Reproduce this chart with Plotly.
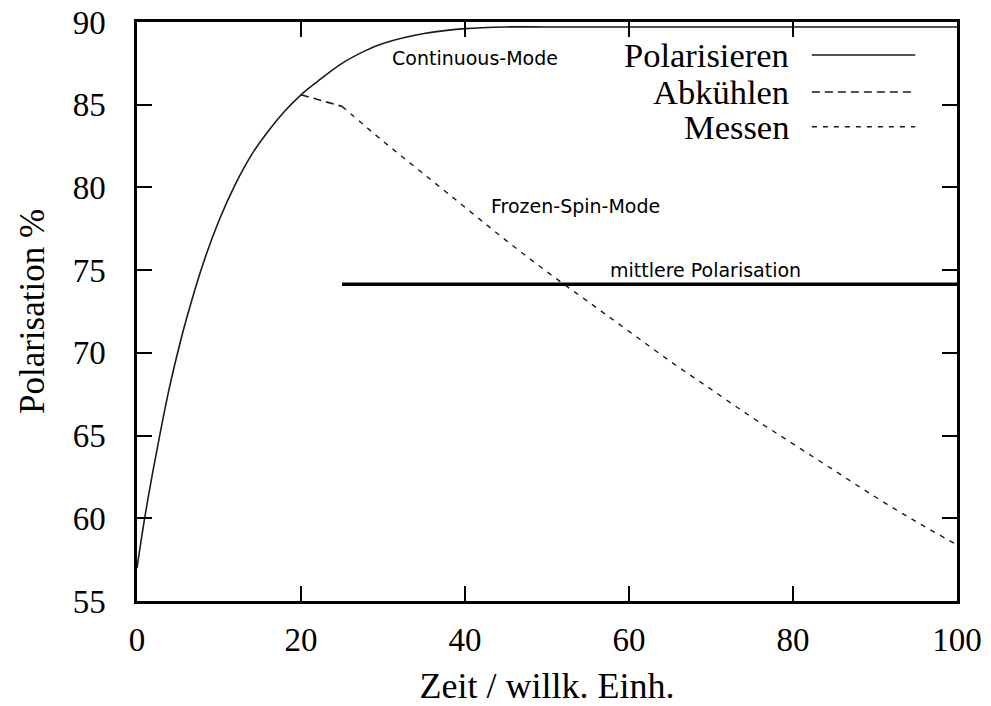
import plotly.graph_objects as go

# Data
t_pol = [0, 1, 2, 3, 4, 5, 6, 8, 10, 12, 14, 16, 18, 20, 22, 25, 28, 30, 35, 40, 45, 50, 60, 70, 80, 90, 100]
p_pol = [57.0, 60.2, 63.0, 65.6, 68.0, 70.1, 72.0, 75.3, 78.0, 80.2, 82.0, 83.4, 84.6, 85.6, 86.4, 87.5, 88.3, 88.7, 89.3, 89.6, 89.7, 89.7, 89.7, 89.7, 89.7, 89.7, 89.7]

t_cool = [20, 25]
p_cool = [85.6, 84.9]

t_meas = [25, 30, 35, 40, 45, 50, 55, 60, 65, 70, 75, 80, 85, 90, 95, 100]
p_meas = [84.9, 82.8, 80.8, 78.8, 76.8, 74.9, 73.1, 71.3, 69.5, 67.8, 66.1, 64.5, 62.9, 61.3, 59.8, 58.4]

t_mean = [25, 100]
p_mean = [74.15, 74.15]

x_ticks = [0, 20, 40, 60, 80, 100]
y_ticks = [55, 60, 65, 70, 75, 80, 85, 90]

legend_names = ["Polarisieren", "Abkühlen", "Messen"]
labels = ["Continuous-Mode", "Frozen-Spin-Mode", "mittlere Polarisation"]

SERIF = "Liberation Serif"
SANS = "DejaVu Sans"
INK = "#1a1a1a"

fig = go.Figure()
fig.add_trace(go.Scatter(x=t_pol, y=p_pol, mode="lines", line=dict(color=INK, width=1.6, shape="spline"),
                         showlegend=False, hoverinfo="skip", cliponaxis=False))
fig.add_trace(go.Scatter(x=t_cool, y=p_cool, mode="lines", line=dict(color=INK, width=1.6, dash="8px,5px"),
                         showlegend=False, hoverinfo="skip"))
fig.add_trace(go.Scatter(x=t_meas, y=p_meas, mode="lines", line=dict(color=INK, width=1.4, dash="5px,6px", shape="spline"),
                         showlegend=False, hoverinfo="skip"))
fig.add_trace(go.Scatter(x=t_mean, y=p_mean, mode="lines", line=dict(color="black", width=3.5),
                         showlegend=False, hoverinfo="skip"))

# text labels inside plot
fig.add_annotation(x=41.2, y=87.8, text=labels[0], showarrow=False, font=dict(family=SANS, size=19, color="black"))
fig.add_annotation(x=53.5, y=78.9, text=labels[1], showarrow=False, font=dict(family=SANS, size=19, color="black"))
fig.add_annotation(x=69.3, y=75.0, text=labels[2], showarrow=False, font=dict(family=SANS, size=19, color="black"))

# custom legend (text left, line sample right)
leg_y = [0.943, 0.879, 0.819]
leg_dash = ["solid", "8px,5px", "5px,6px"]
for name, yy, dsh in zip(legend_names, leg_y, leg_dash):
    fig.add_annotation(xref="paper", yref="paper", x=0.797, y=yy, text=name, showarrow=False,
                       xanchor="right", yanchor="middle", font=dict(family=SERIF, size=34.5, color="black"))
    fig.add_shape(type="line", xref="paper", yref="paper", x0=0.823, x1=0.949, y0=yy, y1=yy,
                  line=dict(color=INK, width=1.6, dash=dsh))

axis_common = dict(showline=True, linecolor="black", linewidth=2.5, mirror="ticks", ticks="inside",
                   ticklen=15, tickwidth=2, tickcolor="black", showgrid=False, zeroline=False,
                   automargin=False, tickfont=dict(family=SERIF, size=33, color="black"))

fig.update_xaxes(range=[0, 100], tickvals=x_ticks, ticklabelstandoff=8,
                 title=dict(text="Zeit / willk. Einh.", font=dict(family=SERIF, size=36, color="black"), standoff=18),
                 **axis_common)
fig.update_yaxes(range=[55, 90], tickvals=y_ticks, ticklabelstandoff=22,
                 title=dict(text="Polarisation %", font=dict(family=SERIF, size=35, color="black"), standoff=18),
                 **axis_common)

fig.update_layout(width=991, height=706, margin=dict(l=137, r=34, t=22, b=105),
                  plot_bgcolor="white", paper_bgcolor="white")

fig.write_html("out.html")
